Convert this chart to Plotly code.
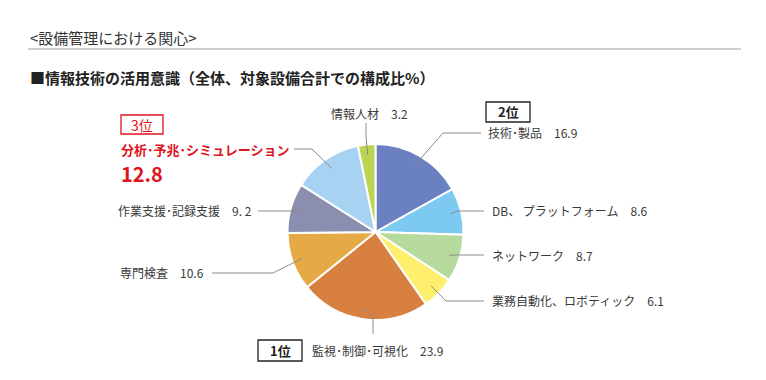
import math
import plotly.graph_objects as go

# ---- data ----
categories = ["技術･製品", "DB、 プラットフォーム", "ネットワーク", "業務自動化、ロボティック",
              "監視･制御･可視化", "専門検査", "作業支援･記録支援",
              "分析･予兆･シミュレーション", "情報人材"]
shares = [16.9, 8.6, 8.7, 6.1, 23.9, 10.6, 9.2, 12.8, 3.2]
value_labels = ["16.9", "8.6", "8.7", "6.1", "23.9", "10.6", "9. 2", "12.8", "3.2"]
colors = ["#6B80C0", "#7CC9F1", "#B6DA9E", "#FEF06C", "#D7803F",
          "#E5A946", "#8B8EAE", "#A8D2F2", "#BCD454"]

# page body has an 8px margin; work in page pixel coordinates
OFF = 8
W, H = 766 - OFF, 380 - OFF
CX, CY, R = 375.5, 232.0, 88.0


def px(x):
    return (x - OFF) / W


def py(y):
    return 1 - (y - OFF) / H


fig = go.Figure()
fig.add_trace(go.Pie(
    labels=categories, values=shares, sort=False, direction="clockwise", rotation=0,
    marker=dict(colors=colors, line=dict(color="white", width=2)),
    textinfo="none", hoverinfo="skip", showlegend=False,
    domain=dict(x=[px(CX - R), px(CX + R)], y=[py(CY + R), py(CY - R)]),
))

# anchor points from data (mid-angle of each slice)
anchors = []
cum = 0.0
total = sum(shares)
for v in shares:
    mid = (cum + v / 2) / total * 2 * math.pi
    cum += v
    rr = 0.88 * R
    anchors.append((CX + rr * math.sin(mid), CY - rr * math.cos(mid)))

# layout: leader elbow, end, label position
label_layout = [
    dict(elbow=(443, 133), end=(481, 133), pos=(486, 133), xa="left"),
    dict(elbow=(458, 211), end=(484, 211), pos=(490, 211), xa="left"),
    dict(elbow=(456, 255), end=(484, 255), pos=(490, 255), xa="left"),
    dict(elbow=(446, 301), end=(484, 301), pos=(490, 300), xa="left"),
    dict(elbow=(373, 318), end=(373, 334), pos=(310, 350), xa="left"),
    dict(elbow=(273, 273), end=(212, 273), pos=(206, 272), xa="right"),
    dict(elbow=(290, 211), end=(258, 211), pos=(254, 211), xa="right"),
    dict(elbow=(312, 149), end=(294, 149), pos=None, xa="left"),
    dict(elbow=(366, 136), end=(366, 123), pos=(369, 114), xa="center"),
]

shapes = []
annotations = []
LINE = dict(color="#8c8c8c", width=1)
FONT = "Noto Sans CJK JP"
for i, lay in enumerate(label_layout):
    ax, ay = anchors[i]
    ex, ey = lay["elbow"]
    tx, ty = lay["end"]
    path = f"M {px(ax)} {py(ay)} L {px(ex)} {py(ey)} L {px(tx)} {py(ty)}"
    shapes.append(dict(type="path", xref="paper", yref="paper", path=path, line=LINE))
    if lay["pos"] is not None:
        x, y = lay["pos"]
        annotations.append(dict(
            x=px(x), y=py(y), xref="paper", yref="paper", xanchor=lay["xa"], yanchor="middle",
            text=f"{categories[i]}　{value_labels[i]}", showarrow=False,
            font=dict(family=FONT, size=12, color="#3a3a3a")))

# 3rd place highlighted label
annotations.append(dict(x=px(119), y=py(149), xref="paper", yref="paper", xanchor="left", yanchor="middle",
                        text=f"<b>{categories[7]}</b>", showarrow=False,
                        font=dict(family=FONT, size=13, color="#E0141E")))
annotations.append(dict(x=px(119), y=py(173), xref="paper", yref="paper", xanchor="left", yanchor="middle",
                        text=f"<b>{value_labels[7]}</b>", showarrow=False,
                        font=dict(family=FONT, size=20, color="#E0141E")))

# rank boxes
boxes = [
    dict(x0=121, y0=115, x1=163, y1=134, text="3位", line="#E0141E", color="#E0141E", bold=False, size=14),
    dict(x0=486, y0=102, x1=530, y1=122, text="2位", line="#222222", color="#222222", bold=True, size=13),
    dict(x0=258, y0=340, x1=302, y1=361, text="1位", line="#222222", color="#222222", bold=True, size=13),
]
for b in boxes:
    shapes.append(dict(type="rect", xref="paper", yref="paper",
                       x0=px(b["x0"]), x1=px(b["x1"]), y0=py(b["y1"]), y1=py(b["y0"]),
                       line=dict(color=b["line"], width=1.3), fillcolor="white"))
    t = f"<b>{b['text']}</b>" if b["bold"] else b["text"]
    annotations.append(dict(x=px((b["x0"] + b["x1"]) / 2), y=py((b["y0"] + b["y1"]) / 2),
                            xref="paper", yref="paper", xanchor="center", yanchor="middle",
                            text=t, showarrow=False,
                            font=dict(family=FONT, size=b["size"], color=b["color"])))

# headings
annotations.append(dict(x=px(28), y=py(37), xref="paper", yref="paper", xanchor="left", yanchor="middle",
                        text="<設備管理における関心>", showarrow=False,
                        font=dict(family=FONT, size=15, color="#333333")))
annotations.append(dict(x=px(28), y=py(77), xref="paper", yref="paper", xanchor="left", yanchor="middle",
                        text="<b>■情報技術の活用意識（全体、対象設備合計での構成比%）</b>", showarrow=False,
                        font=dict(family=FONT, size=15, color="#222222")))
shapes.append(dict(type="line", xref="paper", yref="paper", x0=px(28), x1=px(741), y0=py(49), y1=py(49),
                   line=dict(color="#a0a0a0", width=1.2)))

fig.update_layout(width=W, height=H, margin=dict(l=0, r=0, t=0, b=0),
                  paper_bgcolor="white", plot_bgcolor="white",
                  shapes=shapes, annotations=annotations)
fig.write_html("out.html")
